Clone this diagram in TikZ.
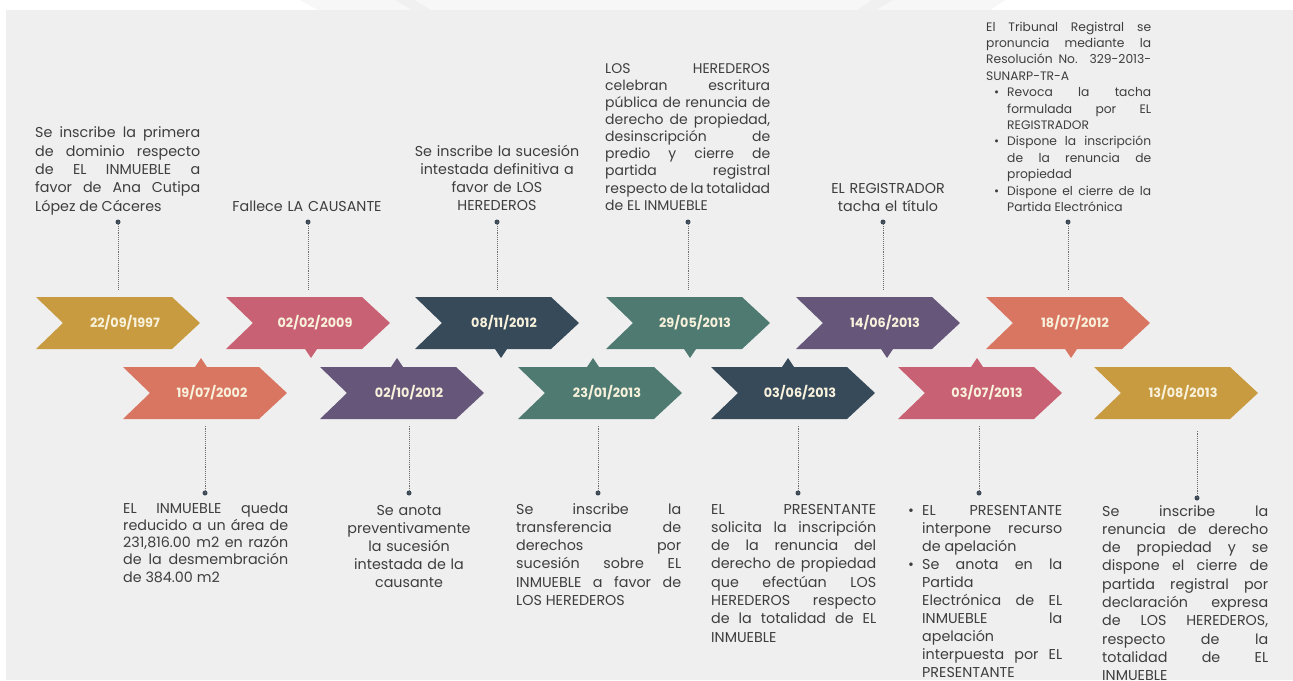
\documentclass[tikz,border=0pt]{standalone}
\usepackage{fontspec}
\setmainfont{Poppins}
\definecolor{cgold}{HTML}{C99B40}
\definecolor{cpink}{HTML}{C96174}
\definecolor{cslate}{HTML}{364A5A}
\definecolor{cteal}{HTML}{4F7A72}
\definecolor{cpurple}{HTML}{66577A}
\definecolor{csalmon}{HTML}{D97662}
\definecolor{cbg}{HTML}{EFEFEF}
\definecolor{ctext}{HTML}{3E3E3E}
\definecolor{cdate}{HTML}{F8F2DC}
\definecolor{cdot}{HTML}{3C4A58}
\definecolor{cline}{HTML}{6E6E6E}
\tolerance=10000
\hyphenpenalty=10000
\exhyphenpenalty=10000
\newcommand\tlfirstbul[1]{\noindent\hangindent=#1\hangafter=1\makebox[#1][l]{\hspace{8pt}\textbullet}\ignorespaces}
\newcommand\tlbul[1]{\par\tlfirstbul{#1}}
\newcommand\tlfs[2]{\fontsize{#1}{#2}\selectfont\spaceskip=\fontdimen2\font plus 2em minus 0.12em\relax}
\tikzset{
  datelbl/.style={inner sep=0pt, anchor=base, text=cdate, font=\fontsize{12.8}{14}\selectfont\bfseries},
  body/.style={inner sep=0pt, anchor=base west, text=ctext, text width=165pt, align=justify,
     font=\tlfs{14.3}{18.3}},
  bodyc/.style={inner sep=0pt, anchor=base, text=ctext, text width=175pt, align=center,
     font=\tlfs{14.3}{18.3}},
  tdot/.style={circle, fill=cdot, inner sep=0pt, minimum size=5pt},
  conn/.style={cline, line width=0.9pt, densely dotted}
}
% chevron: #1 left x, #2 top y, #3 colour
\newcommand\chev[3]{\fill[#3] (#1,#2) -- ++(136,0) -- ++(28,26) -- ++(-28,26) -- ++(-136,0) -- ++(27,-26) -- cycle;}
\newcommand\ptrdown[3]{\fill[#3] ({#1-6},{#2-1}) -- ({#1+6},{#2-1}) -- ({#1+6},#2) -- (#1,{#2+9}) -- ({#1-6},#2) -- cycle;}
\newcommand\ptrup[3]{\fill[#3] ({#1-6},{#2+1}) -- ({#1+6},{#2+1}) -- ({#1+6},#2) -- (#1,{#2-9}) -- ({#1-6},#2) -- cycle;}
\begin{document}
\begin{tikzpicture}[x=1pt,y=-1pt]
\useasboundingbox (0,0) rectangle (1293,680);
\fill[white] (0,0) rectangle (1293,680);
% faint top decoration
\fill[black!3] (300,0) -- (1005,0) -- (990,10) -- (318,10) -- cycle;
\fill[black!6] (395,0) -- (414,0) -- (431,10) -- (412,10) -- cycle;
\fill[black!6] (872,0) -- (893,0) -- (876,10) -- (857,10) -- cycle;
\fill[cbg] (6,10) rectangle (1293,680);

% top row chevrons (top y 297)
\chev{36}{297}{cgold}
\chev{226}{297}{cpink}   \ptrdown{311}{349}{cpink}
\chev{415}{297}{cslate}  \ptrdown{501}{349}{cslate}
\chev{606}{297}{cteal}   \ptrdown{690}{349}{cteal}
\chev{796}{297}{cpurple} \ptrdown{887}{349}{cpurple}
\chev{986}{297}{csalmon} \ptrdown{1071}{349}{csalmon}
% bottom row chevrons (top y 367)
\chev{123}{367}{csalmon} \ptrup{201}{367}{csalmon}
\chev{320}{367}{cpurple} \ptrup{397}{367}{cpurple}
\chev{518}{367}{cteal}   \ptrup{593}{367}{cteal}
\chev{711}{367}{cslate}  \ptrup{788}{367}{cslate}
\chev{898}{367}{cpink}   \ptrup{977}{367}{cpink}
\chev{1094}{367}{cgold}

% date labels
\node[datelbl] (d1) at (125,327.3) {22/09/1997};
\node[datelbl] (d2) at (315,327.3) {02/02/2009};
\node[datelbl] (d3) at (504,327.3) {08/11/2012};
\node[datelbl] (d4) at (695,327.3) {29/05/2013};
\node[datelbl] (d5) at (885,327.3) {14/06/2013};
\node[datelbl] (d6) at (1075,327.3) {18/07/2012};
\node[datelbl] (d7) at (212,397.3) {19/07/2002};
\node[datelbl] (d8) at (409,397.3) {02/10/2012};
\node[datelbl] (d9) at (607,397.3) {23/01/2013};
\node[datelbl] (d10) at (800,397.3) {03/06/2013};
\node[datelbl] (d11) at (987,397.3) {03/07/2013};
\node[datelbl] (d12) at (1183,397.3) {13/08/2013};

% connector ends at the chevrons
\coordinate (e1) at (118,290);
\coordinate (e2) at (308,290);
\coordinate (e3) at (497,290);
\coordinate (e4) at (688,290);
\coordinate (e5) at (883,290);
\coordinate (e6) at (1068,290);
\coordinate (e7) at (205,425);
\coordinate (e8) at (409,425);
\coordinate (e9) at (598,425);
\coordinate (e10) at (798,425);
\coordinate (e11) at (979,425);
\coordinate (e12) at (1197,430);

% dots
\node[tdot] (p1) at (118,222) {};
\node[tdot] (p2) at (308,222) {};
\node[tdot] (p3) at (497,222) {};
\node[tdot] (p4) at (688,222) {};
\node[tdot] (p5) at (883,222) {};
\node[tdot] (p6) at (1068,222) {};
\node[tdot] (p7) at (205,493) {};
\node[tdot] (p8) at (409,493) {};
\node[tdot] (p9) at (598,493) {};
\node[tdot] (p10) at (798,493) {};
\node[tdot] (p11) at (979,493) {};
\node[tdot] (p12) at (1197,498) {};

\foreach \i in {1,...,12} { \draw[conn] (p\i.center) -- (e\i); }

% top texts
\node[body] (t1) at (35,137.8) {Se inscribe la primera\linebreak de dominio respecto\linebreak de EL INMUEBLE a\linebreak favor de Ana Cutipa\linebreak López de Cáceres};
\node[bodyc] (t2) at (307,211) {Fallece LA CAUSANTE};
\node[bodyc] (t3) at (497,156) {Se inscribe la sucesión\\ intestada definitiva a\\ favor de LOS\\ HEREDEROS};
\node[body, font=\tlfs{14}{17.1}] (t4) at (605,73.3) {LOS HEREDEROS\linebreak celebran escritura\linebreak pública de renuncia de\linebreak derecho de propiedad,\linebreak desinscripción de\linebreak predio y cierre de\linebreak partida registral\linebreak respecto de la totalidad\linebreak de EL INMUEBLE};
\node[bodyc, font=\tlfs{14.3}{17.5}] (t5) at (888,193.5) {EL REGISTRADOR\\ tacha el título};
\node[body, font=\tlfs{12.3}{16.4}] (t6) at (986,31) {El Tribunal Registral se\linebreak pronuncia mediante la\linebreak Resolución No. 329-2013-\linebreak SUNARP-TR-A
\tlbul{21pt}Revoca la tacha\linebreak formulada por EL\linebreak REGISTRADOR
\tlbul{21pt}Dispone la inscripción\linebreak de la renuncia de\linebreak propiedad
\tlbul{21pt}Dispone el cierre de la\linebreak Partida Electrónica\par};

% bottom texts
\node[body, font=\tlfs{14.3}{17.3}] (t7) at (123,513) {EL INMUEBLE queda\linebreak reducido a un área de\linebreak 231,816.00 m2 en razón\linebreak de la desmembración\linebreak de 384.00 m2};
\node[bodyc, font=\tlfs{14.3}{18}] (t8) at (409,515) {Se anota\\ preventivamente\\ la sucesión\\ intestada de la\\ causante};
\node[body] (t9) at (516,514) {Se inscribe la\linebreak transferencia de\linebreak derechos por\linebreak sucesión sobre EL\linebreak INMUEBLE a favor de\linebreak LOS HEREDEROS};
\node[body] (t10) at (711,514) {EL PRESENTANTE\linebreak solicita la inscripción\linebreak de la renuncia del\linebreak derecho de propiedad\linebreak que efectúan LOS\linebreak HEREDEROS respecto\linebreak de la totalidad de EL\linebreak INMUEBLE};
\node[body, text width=162pt, font=\tlfs{14.3}{18.1}] (t11) at (900,515) {\tlfirstbul{22pt}EL PRESENTANTE\linebreak interpone recurso\linebreak de apelación
\tlbul{22pt}Se anota en la\linebreak Partida\linebreak Electrónica de EL\linebreak INMUEBLE la\linebreak apelación\linebreak interpuesta por EL\linebreak PRESENTANTE\par};
\node[body, text width=166pt] (t12) at (1102,516) {Se inscribe la\linebreak renuncia de derecho\linebreak de propiedad y se\linebreak dispone el cierre de\linebreak partida registral por\linebreak declaración expresa\linebreak de LOS HEREDEROS,\linebreak respecto de la\linebreak totalidad de EL\linebreak INMUEBLE};
\end{tikzpicture}
\end{document}
